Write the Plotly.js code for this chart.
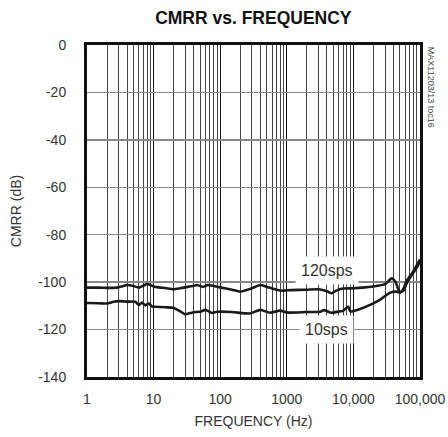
<!DOCTYPE html>
<html><head><meta charset="utf-8">
<script src="https://cdn.plot.ly/plotly-3.0.1.min.js"></script>
<style>html,body{margin:0;padding:0;background:#fff}#chart{width:448px;height:437px}
#chart svg text{font-stretch:condensed !important;}</style>
</head><body><div id="chart"></div>
<script>
const freq120 = [1, 1.5, 2, 2.8, 3.5, 4, 5, 6, 7, 8, 9, 10, 12, 15, 20, 25, 30, 40, 45, 55, 65, 80, 100, 150, 200, 300, 400, 500, 700, 870, 1000, 2000, 3000, 4000, 4700, 5500, 7000, 10000, 15000, 22000, 30000, 37600, 43000, 50000, 57000, 63000, 75000, 89000, 100000];
const cmrr120 = [-102.3, -102.3, -102.4, -102.3, -101.6, -101.2, -101.6, -102.3, -101.5, -100.8, -101.2, -101.8, -102.2, -102.5, -103, -102.6, -102.2, -101.5, -101.2, -102, -101.2, -101.6, -102.2, -103.2, -104, -102.6, -101.2, -102, -103.2, -103.6, -103.4, -103.2, -103, -103.8, -104.7, -103.6, -102.7, -102.6, -102.2, -101.6, -100.8, -98.4, -100, -104.5, -102.5, -99.5, -96.5, -93, -90.5];
const freq10 = [1, 1.5, 2, 2.5, 3, 4, 5.3, 6, 6.7, 7.5, 8.5, 9.5, 10.5, 15, 19.6, 25, 29.5, 36, 42, 50, 60, 75, 90, 150, 280, 400, 560, 790, 1000, 2000, 3200, 3600, 4700, 6000, 7000, 8300, 9000, 12000, 17800, 25000, 35000, 42000, 50000, 57000, 63000, 75000, 89000, 100000];
const cmrr10 = [-108.8, -108.9, -109, -108.3, -108, -108.2, -108.3, -109.6, -108.6, -109.8, -109, -110.3, -110.4, -110.6, -110.8, -112.3, -113.5, -113, -112.6, -112.5, -111.7, -113, -112.5, -112.6, -113.2, -111.7, -112.9, -112, -112.8, -112.6, -112.5, -111.8, -112.9, -112.4, -112.1, -110.3, -112.3, -111.5, -109.6, -107.5, -104.5, -104, -104.2, -103.5, -100.5, -97, -94, -91];
const xTickVals = [1, 10, 100, 1000, 10000, 100000];
const xTickText = ['1', '10', '100', '1000', '10,000', '100,000'];
const yTickVals = [0, -20, -40, -60, -80, -100, -120, -140];
const yTickText = ['0', '-20', '-40', '-60', '-80', '-100', '-120', '-140'];

const FONT = '"Liberation Sans Narrow", "Liberation Sans", Arial, sans-serif';
const lineStyle = {color: '#1a1a1a', width: 2.6, shape: 'spline', smoothing: 0.6};

const data = [
  {x: freq120, y: cmrr120, type: 'scatter', mode: 'lines', line: lineStyle, name: '120sps', hoverinfo: 'skip'},
  {x: freq10, y: cmrr10, type: 'scatter', mode: 'lines', line: lineStyle, name: '10sps', hoverinfo: 'skip'}
];

const layout = {
  width: 448, height: 437,
  margin: {l: 87, r: 28, t: 45, b: 60, pad: 0},
  paper_bgcolor: '#fff', plot_bgcolor: '#fff',
  showlegend: false,
  font: {family: FONT, size: 14, color: '#333'},
  title: {text: '<b>CMRR vs. FREQUENCY</b>', x: 0.5655, xanchor: 'center', y: 0.958, yanchor: 'middle',
          font: {family: FONT, size: 17.5, color: '#111'}},
  xaxis: {
    type: 'log', range: [0, 5],
    tickmode: 'array', tickvals: xTickVals, ticktext: xTickText,
    ticks: '', showgrid: true, gridcolor: '#111', gridwidth: 1.3,
    minor: {dtick: 'D1', showgrid: true, gridcolor: '#444', gridwidth: 1, ticks: ''},
    showline: true, mirror: true, linecolor: '#111', linewidth: 3,
    zeroline: false, tickfont: {family: FONT, size: 14, color: '#333'}, ticklabelstandoff: 7,
    title: {text: 'FREQUENCY (Hz)', font: {family: FONT, size: 14, color: '#333'}, standoff: 11}
  },
  yaxis: {
    range: [-140, 0], tickmode: 'array', tickvals: yTickVals, ticktext: yTickText,
    ticks: '', showgrid: true, gridcolor: '#888', gridwidth: 1.5,
    showline: true, mirror: true, linecolor: '#111', linewidth: 3,
    zeroline: false, tickfont: {family: FONT, size: 14, color: '#333'}, ticklabelstandoff: 15,
    title: {text: 'CMRR (dB)', font: {family: FONT, size: 14, color: '#333'}, standoff: 14}
  },
  annotations: [
    {xref: 'paper', yref: 'paper', x: 0.72, y: 0.322, text: '120sps', showarrow: false,
     bgcolor: '#fff', borderpad: 5, font: {family: FONT, size: 16, color: '#333'}, xanchor: 'center', yanchor: 'middle'},
    {xref: 'paper', yref: 'paper', x: 0.72, y: 0.1416, text: '10sps', showarrow: false,
     bgcolor: '#fff', borderpad: 5, font: {family: FONT, size: 16, color: '#333'}, xanchor: 'center', yanchor: 'middle'},
    {xref: 'paper', yref: 'paper', x: 1.035, y: 1.0, text: 'MAX11203/13 toc16', showarrow: false,
     textangle: 90, xanchor: 'center', yanchor: 'top', font: {family: FONT, size: 9, color: '#444'}}
  ]
};

Plotly.newPlot('chart', data, layout, {staticPlot: true, displayModeBar: false});
</script></body></html>
